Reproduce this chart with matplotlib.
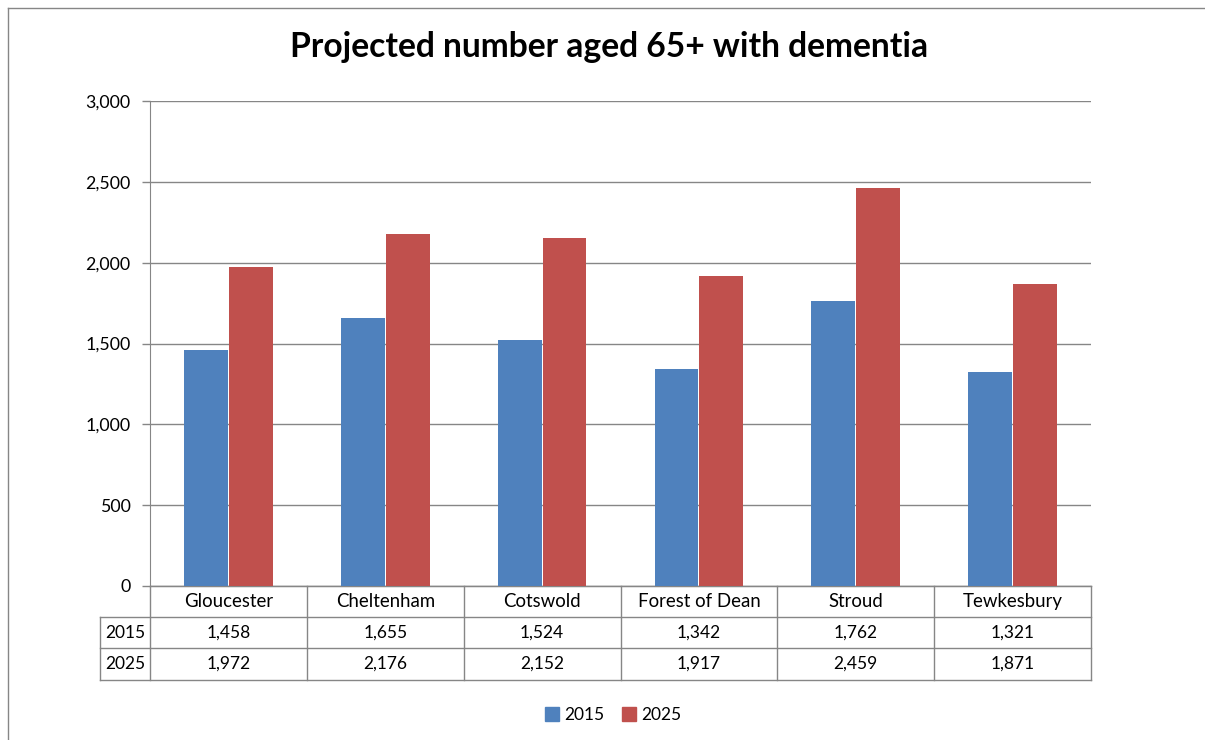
import matplotlib.pyplot as plt
from matplotlib.lines import Line2D
from matplotlib.patches import Rectangle

# data
districts = ['Gloucester', 'Cheltenham', 'Cotswold', 'Forest of Dean', 'Stroud', 'Tewkesbury']
years = ['2015', '2025']
values_2015 = [1458, 1655, 1524, 1342, 1762, 1321]
values_2025 = [1972, 2176, 2152, 1917, 2459, 1871]
y_ticks = [0, 500, 1000, 1500, 2000, 2500, 3000]

BLUE = '#4F81BD'
RED = '#C0504D'
GRID = '#868686'
FONT = 'Lato'

plt.rcParams['font.family'] = [FONT, 'DejaVu Sans']

W, H = 1205, 740
fig = plt.figure(figsize=(W / 100, H / 100), dpi=100)

# plot area in pixels: x 150..1091, y 101..586
ax = fig.add_axes([150 / W, (H - 586) / H, 941 / W, 485 / H])

n = len(districts)
xs = [i + 0.5 for i in range(n)]
bw = 0.28
ax.bar([x - 0.143 for x in xs], values_2015, bw, color=BLUE, label=years[0], zorder=3)
ax.bar([x + 0.143 for x in xs], values_2025, bw, color=RED, label=years[1], zorder=3)

ax.set_xlim(0, n)
ax.set_ylim(0, 3000)
ax.set_yticks(y_ticks)
ax.set_yticklabels([f'{v:,}' for v in y_ticks], fontsize=12.8)
ax.set_xticks([])
ax.yaxis.grid(True, color=GRID, linewidth=1.0, zorder=0)
ax.tick_params(axis='y', length=6, width=1, color=GRID, pad=8)
for side in ['top', 'right']:
    ax.spines[side].set_visible(False)
ax.spines['left'].set_color(GRID)
ax.spines['bottom'].set_color(GRID)

# data table below the plot area
row_h = 31.2 / 485  # in axes fraction
lbl_w = 50 / 941 * n  # width of the row label column in data units
trans = ax.get_xaxis_transform()
lc = dict(color=GRID, linewidth=1.0, clip_on=False, transform=trans)

rows = [values_2015, values_2025]
n_rows = len(rows) + 1
bottom = -row_h * n_rows
# horizontal lines
ax.add_line(Line2D([0, n], [0, 0], **lc))
for r in range(1, n_rows + 1):
    ax.add_line(Line2D([-lbl_w, n], [-row_h * r] * 2, **lc))
# vertical lines
for c in range(n + 1):
    ax.add_line(Line2D([c, c], [0, bottom], **lc))
ax.add_line(Line2D([-lbl_w, -lbl_w], [-row_h, bottom], **lc))

for i, name in enumerate(districts):
    ax.text(i + 0.5, -row_h * 0.5, name, transform=trans, ha='center', va='center',
            fontsize=13.4)
    for r, vals in enumerate(rows):
        ax.text(i + 0.5, -row_h * (r + 1.5), f'{vals[i]:,}', transform=trans,
                ha='center', va='center', fontsize=12.5)
for r, yr in enumerate(years):
    ax.text(-lbl_w / 2, -row_h * (r + 1.5), yr, transform=trans, ha='center',
            va='center', fontsize=12.5)

fig.text(609 / W, 1 - 47 / H, 'Projected number aged 65+ with dementia',
         ha='center', va='center', fontsize=24.2, fontweight='bold')

handles = [Rectangle((0, 0), 1, 1, color=BLUE), Rectangle((0, 0), 1, 1, color=RED)]
fig.legend(handles, years, loc='center', bbox_to_anchor=(613 / W, 1 - 715 / H),
           ncol=2, frameon=False, fontsize=12.5, handlelength=0.8, handleheight=0.8,
           handletextpad=0.3, columnspacing=1.0)

# outer chart border (top and left visible)
fig.add_artist(Line2D([8 / W, 8 / W], [0, 1 - 8 / H], color=GRID, linewidth=1.0,
                      transform=fig.transFigure))
fig.add_artist(Line2D([8 / W, 1], [1 - 8 / H, 1 - 8 / H], color=GRID, linewidth=1.0,
                      transform=fig.transFigure))

fig.savefig('out.png', dpi=100)
